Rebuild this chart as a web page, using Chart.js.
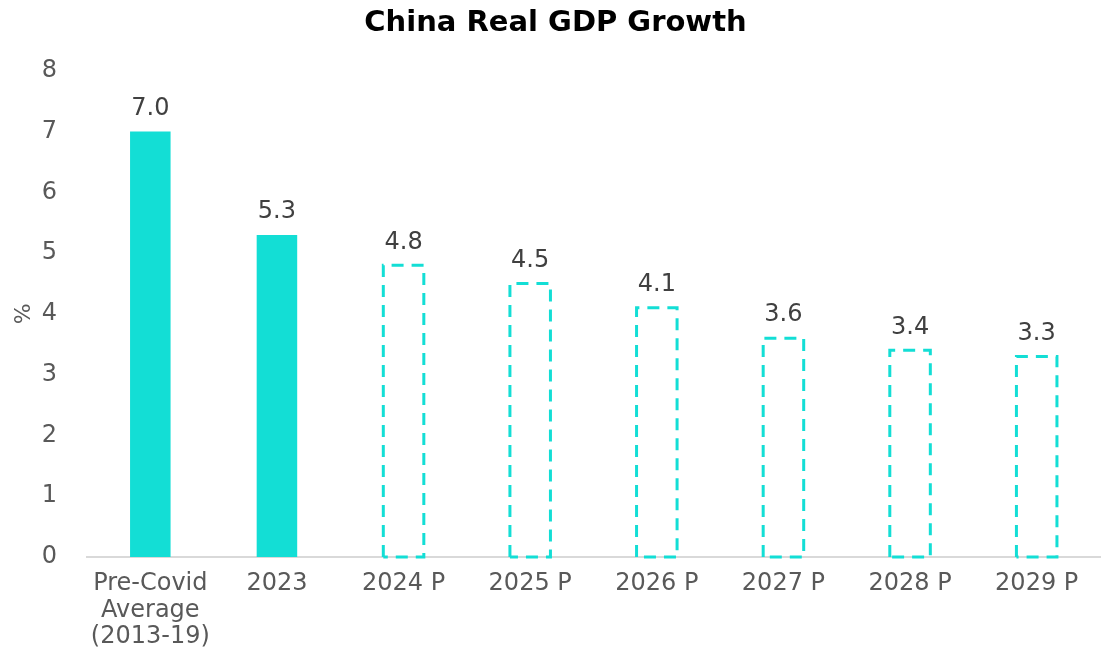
<!DOCTYPE html>
<html>
<head>
<meta charset="utf-8">
<script src="https://cdn.jsdelivr.net/npm/chart.js@4"></script>
<style>
html,body{margin:0;padding:0;background:#fff;}
#wrap{width:1102px;height:651px;}
</style>
</head>
<body>
<div id="wrap"><canvas id="c" width="1102" height="651"></canvas></div>
<script>
const categories = [['Pre-Covid','Average','(2013-19)'], '2023', '2024 P', '2025 P', '2026 P', '2027 P', '2028 P', '2029 P'];
const growth = [7.0, 5.3, 4.8, 4.5, 4.1, 3.6, 3.4, 3.3];
const projected = [false, false, true, true, true, true, true, true];
const yTicks = [0, 1, 2, 3, 4, 5, 6, 7, 8];

const TEAL = '#13DED5';
const FONT = "'DejaVu Sans', 'Open Sans', sans-serif";

const dashedBars = {
  id: 'dashedBars',
  afterDatasetsDraw(chart) {
    const ctx = chart.ctx;
    const meta = chart.getDatasetMeta(0);
    ctx.save();
    ctx.strokeStyle = TEAL;
    ctx.lineWidth = 3;
    ctx.setLineDash([12, 8]);
    meta.data.forEach((bar, i) => {
      if (!projected[i]) return;
      const p = bar.getProps(['x', 'y', 'base', 'width'], true);
      const l = p.x - p.width / 2, r = p.x + p.width / 2;
      ctx.beginPath();
      ctx.moveTo(l, p.base);
      ctx.lineTo(l, p.y);
      ctx.lineTo(r, p.y);
      ctx.lineTo(r, p.base);
      ctx.lineTo(l, p.base);
      ctx.stroke();
    });
    ctx.restore();
  }
};

const valueLabels = {
  id: 'valueLabels',
  afterDatasetsDraw(chart) {
    const ctx = chart.ctx;
    const meta = chart.getDatasetMeta(0);
    ctx.save();
    ctx.fillStyle = '#404040';
    ctx.font = "24px " + FONT;
    ctx.textAlign = 'center';
    ctx.textBaseline = 'bottom';
    meta.data.forEach((bar, i) => {
      ctx.fillText(growth[i].toFixed(1), bar.x, bar.y - 11);
    });
    ctx.restore();
  }
};

new Chart(document.getElementById('c'), {
  type: 'bar',
  data: {
    labels: categories,
    datasets: [{
      data: growth,
      backgroundColor: growth.map((v, i) => projected[i] ? 'rgba(0,0,0,0)' : TEAL),
      borderWidth: 0,
      categoryPercentage: 1,
      barPercentage: 0.32
    }]
  },
  options: {
    responsive: false,
    animation: false,
    layout: { padding: { left: 11, right: 2, top: 6, bottom: 0 } },
    plugins: {
      legend: { display: false },
      tooltip: { enabled: false },
      title: {
        display: true,
        text: 'China Real GDP Growth',
        color: '#000',
        font: { family: FONT, size: 29, weight: 'bold' },
        padding: { top: 0, bottom: 30 }
      }
    },
    scales: {
      x: {
        grid: { display: false, drawTicks: false },
        border: { display: true, color: '#d9d9d9', width: 2 },
        ticks: {
          color: '#595959',
          font: { family: FONT, size: 24, lineHeight: 1.1 },
          padding: 14,
          maxRotation: 0,
          autoSkip: false
        },
        afterFit(scale) {
          scale.paddingLeft = 0;
          scale.paddingRight = 0;
          scale.height = 94;
        }
      },
      y: {
        min: 0,
        max: 8,
        afterBuildTicks(axis) { axis.ticks = yTicks.map(v => ({ value: v })); },
        grid: { display: false, drawTicks: false },
        border: { display: false },
        ticks: {
          color: '#595959',
          font: { family: FONT, size: 24 },
          padding: 30
        },
        title: {
          display: true,
          text: '%',
          color: '#595959',
          font: { family: FONT, size: 22 },
          padding: { top: 0, bottom: 5 }
        },
        afterFit(scale) {
          scale.width = 76;
          scale.paddingTop = 0;
          scale.paddingBottom = 0;
        }
      }
    }
  },
  plugins: [dashedBars, valueLabels]
});
</script>
</body>
</html>
